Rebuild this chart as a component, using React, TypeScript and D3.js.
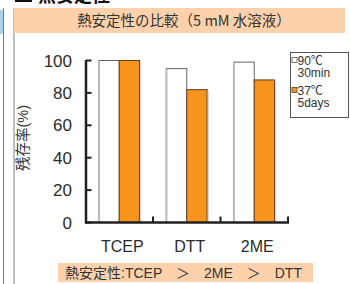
import React from "react";
import * as d3 from "d3";

const categories = ["TCEP", "DTT", "2ME"];
const seriesNames = ["90℃ 30min", "37℃ 5days"];
const heated = [100, 95, 99];
const stored = [100, 82, 88];
const yTicks = [0, 20, 40, 60, 80, 100];
const title = "熱安定性の比較（5 mM 水溶液）";
const footer = "熱安定性:TCEP　＞　2ME　＞　DTT";
const yTitle = "残存率(%)";

const W = 350;
const H = 284;
const ORANGE = "#F7941D";
const INK = "#231f20";
const TXT = "#2b2b2b";
const LATIN = "'Liberation Sans', Arial, 'Noto Sans CJK JP', sans-serif";
const CJK = "'Noto Sans CJK JP', 'Liberation Sans', sans-serif";

export default function App() {
  const x = d3.scaleBand<string>().domain(categories).range([85.5, 288]).padding(0);
  const sub = d3
    .scaleBand<string>()
    .domain(["heated", "stored"])
    .range([0, x.bandwidth()])
    .paddingInner(0)
    .paddingOuter(0.66);
  const y = d3.scaleLinear().domain([0, 100]).range([222.5, 60.5]);

  const series = [
    { key: "heated", values: heated, fill: "#ffffff", stroke: "#666666" },
    { key: "stored", values: stored, fill: ORANGE, stroke: "#5b4028" },
  ];

  return (
    <svg
      width={W}
      height={H}
      style={{ position: "absolute", left: 0, top: 0, background: "#fff" }}
    >
      {/* clipped page heading at very top */}
      <rect x={15} y={-12} width={17} height={14} fill="#111" />
      <text x={38} y={2} fontFamily={CJK} fontSize={18} fontWeight={700} fill="#111">
        熱安定性
      </text>
      {/* left decorations */}
      <rect x={0} y={10} width={3} height={24} fill="#a9d4ee" />
      <line x1={3.5} y1={8} x2={3.5} y2={H} stroke="#777" strokeWidth={1} />
      <line x1={14} y1={8} x2={14} y2={H} stroke="#aaa" strokeWidth={1.5} />
      {/* header */}
      <rect x={14} y={8} width={331} height={25} fill="#fdd1ab" />
      <text
        x={184}
        y={25.5}
        textAnchor="middle"
        fontFamily={CJK}
        fontSize={14.5}
        fill="#333"
      >
        {title}
      </text>

      {/* y title */}
      <text
        transform="translate(28,138) rotate(-90)"
        textAnchor="middle"
        fontFamily={LATIN}
        fontSize={14.5}
        fill="#333"
      >
        {yTitle}
      </text>

      {/* bars */}
      {series.map((s) =>
        categories.map((c, i) => {
          const bx = (x(c) ?? 0) + (sub(s.key) ?? 0);
          const bw = sub.bandwidth();
          const by = y(s.values[i]);
          const bh = y(0) - by;
          return (
            <g key={s.key + c}>
              <rect x={bx} y={by} width={bw} height={bh} fill={s.fill} stroke={s.stroke} strokeWidth={1} />
              {s.key === "heated" ? (
                <line x1={bx} y1={by + 0.5} x2={bx} y2={y(0)} stroke="#bbbbbb" strokeWidth={2} />
              ) : (
                <line x1={bx + bw + 1.2} y1={by + 1} x2={bx + bw + 1.2} y2={y(0)} stroke="#cccccc" strokeWidth={1} />
              )}
            </g>
          );
        })
      )}

      {/* y axis */}
      <line x1={86} y1={y(100) - 0.5} x2={86} y2={y(0) + 1} stroke={INK} strokeWidth={2.5} />
      {yTicks.map((t) => (
        <g key={t}>
          <line x1={86} x2={91.5} y1={y(t)} y2={y(t)} stroke={INK} strokeWidth={2} />
          <text
            x={72}
            y={y(t) + 6}
            textAnchor="end"
            fontFamily={LATIN}
            fontSize={17}
            fill={TXT}
          >
            {t}
          </text>
        </g>
      ))}

      {/* x axis */}
      <line x1={85} y1={y(0)} x2={289} y2={y(0)} stroke={INK} strokeWidth={2.5} />
      {categories.map((c) => {
        const edge = (x(c) ?? 0) + x.bandwidth();
        return (
          <line key={"t" + c} x1={edge} x2={edge} y1={y(0)} y2={y(0) - 6} stroke={INK} strokeWidth={2} />
        );
      })}
      {categories.map((c) => (
        <text
          key={"l" + c}
          x={(x(c) ?? 0) + x.bandwidth() / 2 + 3}
          y={252}
          textAnchor="middle"
          fontFamily={LATIN}
          fontSize={16}
          fill={TXT}
        >
          {c}
        </text>
      ))}

      {/* legend */}
      <rect x={290.5} y={52.5} width={58} height={65} fill="#fff" stroke="#555" strokeWidth={1} />
      {series.map((s, i) => {
        const [l1, l2] = seriesNames[i].split(" ");
        const top = 57 + i * 30;
        return (
          <g key={"lg" + s.key}>
            <rect x={292} y={top + 0.5} width={5} height={5} fill={s.fill} stroke={i === 0 ? "#555" : "#5b4028"} strokeWidth={0.8} />
            <text x={297.5} y={top + 7.5} fontFamily={LATIN} fontSize={12} fill="#333">
              {l1}
            </text>
            <text x={297.5} y={top + 20} fontFamily={LATIN} fontSize={12} fill="#333">
              {l2}
            </text>
          </g>
        );
      })}

      {/* footer */}
      <rect x={58} y={263} width={255} height={19} fill="#fdd1ab" />
      <text x={65} y={277.5} fontFamily={LATIN} fontSize={14} fill="#333">
        {footer}
      </text>
    </svg>
  );
}
